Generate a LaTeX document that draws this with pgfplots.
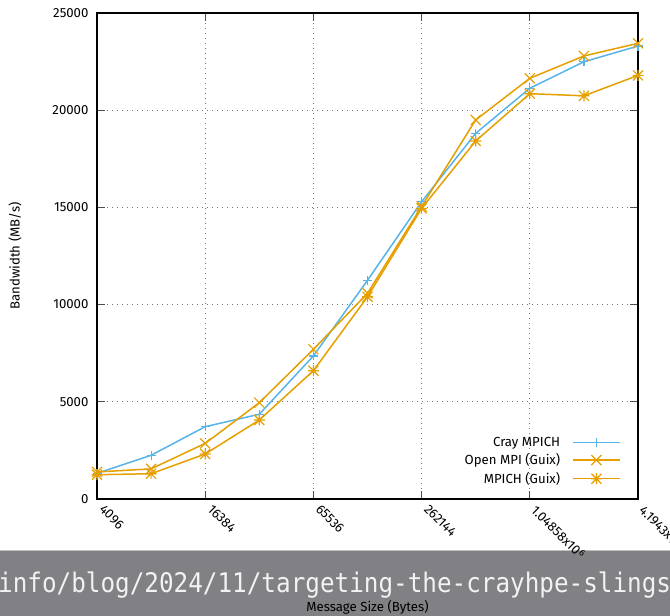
\documentclass[border=0pt]{standalone}
\usepackage{fontspec}
\setmainfont{Fira Sans}
\newfontfamily\urlfont{DejaVu Sans Mono}
\usepackage{pgfplots}
\pgfplotsset{compat=1.18}
\definecolor{cray}{HTML}{56B4E9}
\definecolor{gorange}{HTML}{E69F00}
\definecolor{banner}{RGB}{128,128,133}
\definecolor{urltext}{RGB}{242,242,242}

\pgfdeclareplotmark{gpplus}{%
  \pgfpathmoveto{\pgfqpoint{-4.5pt}{0pt}}\pgfpathlineto{\pgfqpoint{4.5pt}{0pt}}%
  \pgfpathmoveto{\pgfqpoint{0pt}{-4.5pt}}\pgfpathlineto{\pgfqpoint{0pt}{4.5pt}}%
  \pgfusepathqstroke}
\pgfdeclareplotmark{gpx}{%
  \pgfpathmoveto{\pgfqpoint{-5pt}{-5pt}}\pgfpathlineto{\pgfqpoint{5pt}{5pt}}%
  \pgfpathmoveto{\pgfqpoint{-5pt}{5pt}}\pgfpathlineto{\pgfqpoint{5pt}{-5pt}}%
  \pgfusepathqstroke}
\pgfdeclareplotmark{gpstar}{%
  \pgfpathmoveto{\pgfqpoint{-5pt}{-5pt}}\pgfpathlineto{\pgfqpoint{5pt}{5pt}}%
  \pgfpathmoveto{\pgfqpoint{-5pt}{5pt}}\pgfpathlineto{\pgfqpoint{5pt}{-5pt}}%
  \pgfpathmoveto{\pgfqpoint{-5.5pt}{0pt}}\pgfpathlineto{\pgfqpoint{5.5pt}{0pt}}%
  \pgfpathmoveto{\pgfqpoint{0pt}{-5.5pt}}\pgfpathlineto{\pgfqpoint{0pt}{5.5pt}}%
  \pgfusepathqstroke}

\newcommand{\lblfont}{\fontsize{13.2}{16}\selectfont}

\begin{document}
\begin{tikzpicture}
\useasboundingbox (0,0) rectangle (670pt,616pt);
\clip (0,0) rectangle (670pt,616pt);
\fill[banner] (0,0) rectangle (670pt,65pt);
\draw[black!25, line width=1pt] (0,65pt) -- (670pt,65pt);
\node[anchor=base west, inner sep=0pt, text=urltext, font=\urlfont\fontsize{27}{30}\selectfont, xscale=0.90] at (-2pt,23pt) {info/blog/2024/11/targeting-the-crayhpe-slingshot};
\begin{axis}[
  at={(97pt,117pt)}, anchor=south west,
  width=541pt, height=486pt, scale only axis,
  font=\lblfont,
  xmode=log, log basis x=2,
  xmin=4096, xmax=4194304,
  ymin=0, ymax=25000,
  xtick={4096,16384,65536,262144,1048576,4194304},
  xticklabels={4096,16384,65536,262144,{1.04858x10\textsuperscript{6}},{4.1943x10\textsuperscript{6}}},
  ytick={0,5000,10000,15000,20000,25000},
  scaled y ticks=false,
  /pgf/number format/1000 sep={},
  /pgf/number format/assume math mode=true,
  yticklabel style={font=\lblfont, xshift=-5pt},
  xticklabel style={font=\lblfont, inner sep=1pt, xshift=8pt, yshift=-3pt, rotate=-45, anchor=north west},
  tick align=inside,
  major tick length=8pt,
  every tick/.style={black!70, line width=1.2pt},
  axis line style={black, line width=1.1pt},
  grid=major,
  major grid style={black!55, line width=0.8pt, dash pattern=on 1.2pt off 3.8pt},
  xlabel={Message Size (Bytes)},
  ylabel={Bandwidth (MB/s)},
  every axis x label/.style={at={(axis description cs:0.5,-0.2222)}, anchor=center, font=\lblfont},
  every axis y label/.style={at={(axis description cs:-0.1516,0.5)}, rotate=90, anchor=center, font=\lblfont},
  legend plot pos=right,
  legend cell align=right,
  legend style={draw=none, fill=none, font=\lblfont, at={(axis description cs:0.972,0.02)}, anchor=south east, row sep=2pt, inner sep=2pt},
  legend image code/.code={\path (0pt,0pt) (57pt,0pt); \draw[mark repeat=2,mark phase=2,#1] plot coordinates {(10pt,0pt)(33.5pt,0pt)(57pt,0pt)};},
]
\addplot[cray, line width=1.5pt, mark=gpplus, mark options={solid, line width=1.2pt}] coordinates {
 (4096,1320) (8192,2250) (16384,3720) (32768,4360) (65536,7360) (131072,11250)
 (262144,15290) (524288,18810) (1048576,21130) (2097152,22490) (4194304,23300)};
\addlegendentry{Cray MPICH}
\addplot[gorange, line width=1.5pt, mark=gpx, mark options={solid, line width=1.2pt}] coordinates {
 (4096,1390) (8192,1550) (16384,2860) (32768,4955) (65536,7700) (131072,10580)
 (262144,15050) (524288,19500) (1048576,21640) (2097152,22790) (4194304,23440)};
\addlegendentry{Open MPI (Guix)}
\addplot[gorange, line width=1.5pt, mark=gpstar, mark options={solid, line width=1.2pt}] coordinates {
 (4096,1250) (8192,1300) (16384,2315) (32768,4064) (65536,6600) (131072,10400)
 (262144,14950) (524288,18416) (1048576,20850) (2097152,20740) (4194304,21790)};
\addlegendentry{MPICH (Guix)}
\end{axis}
\end{tikzpicture}
\end{document}
